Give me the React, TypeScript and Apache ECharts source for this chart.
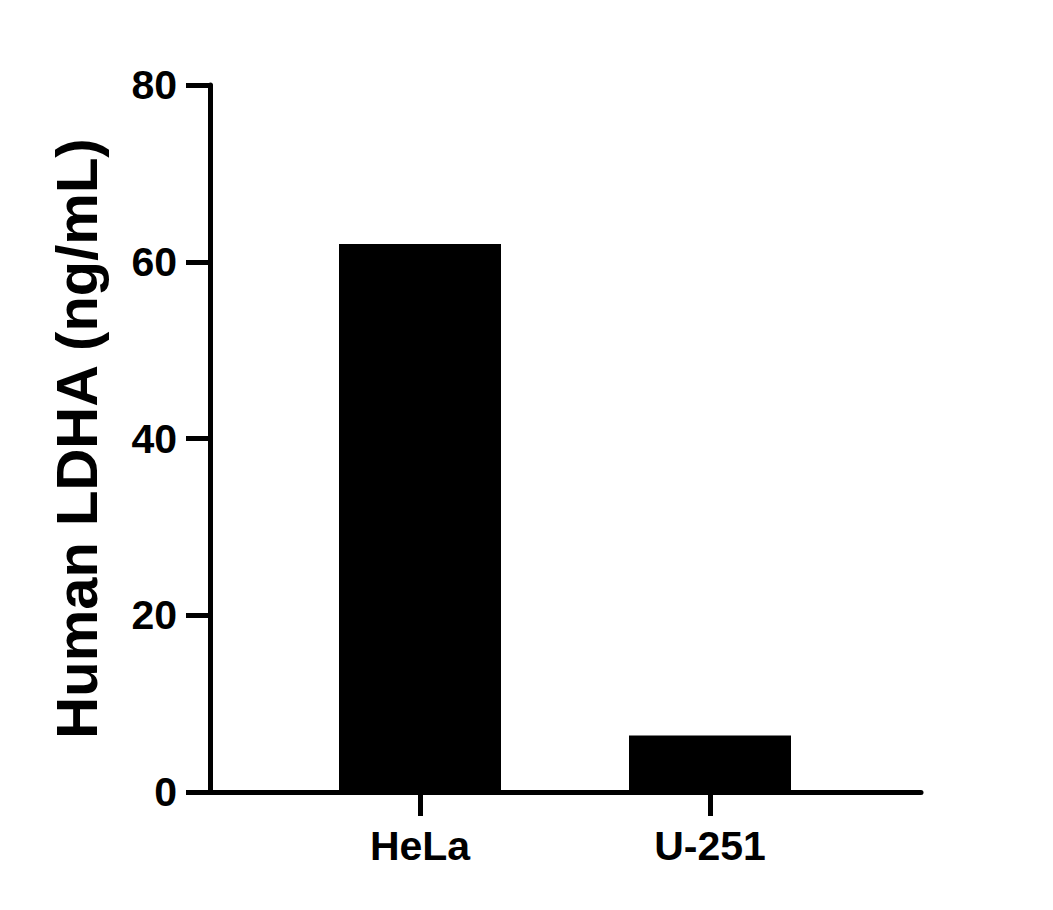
import React, { useEffect, useRef } from "react";
import * as echarts from "echarts";

const categories = ["HeLa", "U-251"];
const ldhaValues = [62.0, 6.4];
const yTicks = { min: 0, max: 80, interval: 20 };

const FONT = "Arial, 'Liberation Sans', Helvetica, sans-serif";

export default function App() {
  const chartRef = useRef<HTMLDivElement>(null);

  useEffect(() => {
    if (!chartRef.current) return;
    const chart = echarts.init(chartRef.current, undefined, { renderer: "svg" });

    const lineStyle = { color: "#000", width: 5 };

    const option = {
      animation: false,
      backgroundColor: "#fff",
      grid: [
        // bars sit in a narrower grid so the categories land where the original has them
        { left: 275, right: 198, top: 85, bottom: 118 },
        // the frame: y axis and the full-length x axis line
        { left: 210, right: 132, top: 85, bottom: 118 },
      ],
      xAxis: [
        {
          type: "category",
          gridIndex: 0,
          data: categories,
          axisLine: { show: false },
          axisTick: { show: true, alignWithLabel: true, length: 24, lineStyle },
          axisLabel: {
            margin: 33,
            color: "#000",
            fontSize: 41,
            fontWeight: "bold",
            fontFamily: FONT,
          },
        },
        {
          type: "value",
          gridIndex: 1,
          min: 0,
          max: 1,
          axisLine: { show: true, onZero: false, lineStyle },
          axisTick: { show: false },
          axisLabel: { show: false },
          splitLine: { show: false },
        },
      ],
      yAxis: [
        {
          type: "value",
          gridIndex: 0,
          ...yTicks,
          show: false,
          splitLine: { show: false },
        },
        {
          type: "value",
          gridIndex: 1,
          ...yTicks,
          name: "Human LDHA (ng/mL)",
          nameLocation: "middle",
          nameRotate: 90,
          nameGap: 105,
          nameTextStyle: {
            color: "#000",
            fontSize: 58,
            fontWeight: "bold",
            fontFamily: FONT,
          },
          axisLine: { show: true, lineStyle },
          axisTick: { show: true, length: 24, lineStyle },
          axisLabel: {
            margin: 33,
            color: "#000",
            fontSize: 41,
            fontWeight: "bold",
            fontFamily: FONT,
          },
          splitLine: { show: false },
        },
      ],
      series: [
        {
          type: "bar",
          xAxisIndex: 0,
          yAxisIndex: 0,
          data: ldhaValues,
          barWidth: 162,
          itemStyle: { color: "#000" },
        },
      ],
    };

    chart.setOption(option);
    return () => chart.dispose();
  }, []);

  return (
    <div
      ref={chartRef}
      style={{ position: "fixed", left: 0, top: 0, width: 1053, height: 910 }}
    />
  );
}
